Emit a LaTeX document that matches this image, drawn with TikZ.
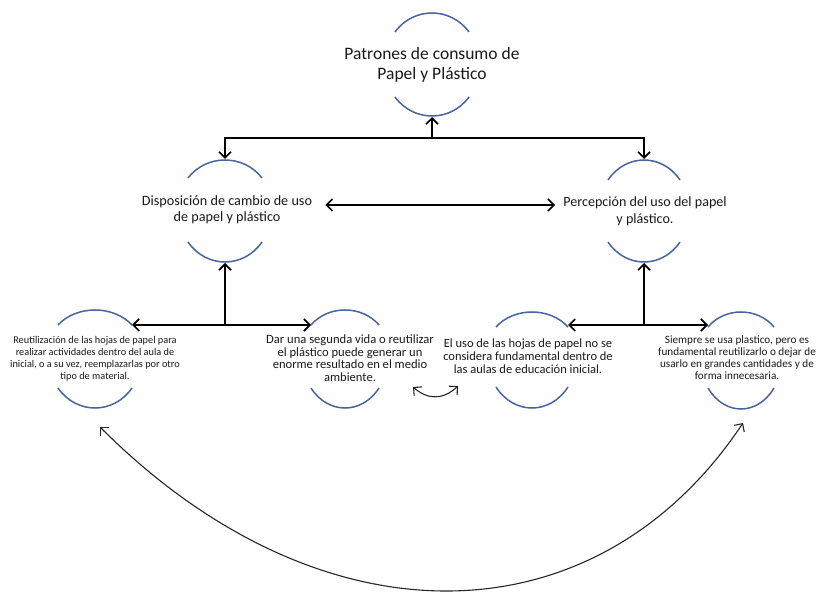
\documentclass[tikz,border=0pt]{standalone}
\usepackage{fontspec}
\setmainfont{Carlito}
\usetikzlibrary{arrows.meta}
\definecolor{arcblue}{RGB}{72,100,158}
\definecolor{txt}{RGB}{25,25,25}
\newcommand{\twoarcs}[7]{%
  \coordinate (#1t) at (#2,#3);
  \coordinate (#1b) at (#2,#4);
  \coordinate (#1tl) at ({#2-#5},{#3+#6});
  \coordinate (#1tr) at ({#2+#5},{#3+#6});
  \coordinate (#1bl) at ({#2-#5},{#4-#7});
  \coordinate (#1br) at ({#2+#5},{#4-#7});
  \draw[arcline] (#1tl) .. controls ({#2-#5/2},{#3-#6/3}) and ({#2+#5/2},{#3-#6/3}) .. (#1tr);
  \draw[arcline] (#1bl) .. controls ({#2-#5/2},{#4+#7/3}) and ({#2+#5/2},{#4+#7/3}) .. (#1br);
}
\begin{document}
\begin{tikzpicture}[x=1pt,y=-1pt,
  arcline/.style={draw=arcblue,line width=1.5pt},
  label/.style={align=center,text=txt,inner sep=0pt},
  conn/.style={line width=1.6pt,black},
  tip/.style={-{Straight Barb[length=6pt,width=12pt]}},
  tips/.style={{Straight Barb[length=6pt,width=12pt]}-{Straight Barb[length=6pt,width=12pt]}},
  thin/.style={line width=1.1pt,black!85}]
\useasboundingbox (0,0) rectangle (817,593);

% arcs around the concepts
\twoarcs{T}{432}{13}{116}{37}{19}{19}
\twoarcs{D}{225}{160}{262}{37}{18}{20}
\twoarcs{P}{644}{160}{262}{36}{20}{20}
\twoarcs{R}{95}{310}{408}{37}{15}{20}
\twoarcs{G}{345}{310}{408}{34}{15}{20}
\twoarcs{E}{532}{312}{408}{36}{15}{21}
\twoarcs{S}{741}{312}{409}{33}{15}{21}

% texts
\node[label,font=\fontsize{17.5}{20.5}\selectfont] (T) at (432,65) {Patrones de consumo de\\Papel y Plástico};
\node[label,font=\fontsize{14.2}{16}\selectfont] (D) at (227,210) {Disposición de cambio de uso\\de papel y plástico};
\node[label,font=\fontsize{14.1}{17}\selectfont] (P) at (645,211) {Percepción del uso del papel\\y plástico.};
\node[label,font=\fontsize{10.3}{12}\selectfont] (R) at (95,359) {Reutilización de las hojas de papel para\\realizar actividades dentro del aula de\\inicial, o a su vez, reemplazarlas por otro\\tipo de material.};
\node[label,font=\fontsize{12.6}{12.6}\selectfont] (G) at (350,358) {Dar una segunda vida o reutilizar\\el plástico puede generar un\\enorme resultado en el medio\\ambiente.};
\node[label,font=\fontsize{12.5}{13}\selectfont] (E) at (528,356) {El uso de las hojas de papel no se\\considera fundamental dentro de\\las aulas de educación inicial.};
\node[label,font=\fontsize{11.2}{12}\selectfont] (S) at (737,358) {Siempre se usa plastico, pero es\\fundamental reutilizarlo o dejar de\\usarlo en grandes cantidades y de\\forma innecesaria.};

% junctions
\coordinate (J1) at (432,138);
\coordinate (J2) at (225,325);
\coordinate (J3) at (644,325);

% connectors
\draw[conn,tip] (J1) -- ([yshift=-1pt]Tb);
\draw[conn,tip] (J1) -| ([yshift=1pt]Dt);
\draw[conn,tip] (J1) -| ([yshift=1pt]Pt);
\draw[conn,tips] ([shift={(13,-5)}]D.east) -- ([shift={(-8,-6)}]P.west);
\draw[conn,tip] (J2) -- ([yshift=-1pt]Db);
\draw[conn,tips] (Rtr |- J2) -- (Gtl |- J2);
\draw[conn,tip] (J3) -- ([yshift=-1pt]Pb);
\draw[conn,tips] (Etr |- J3) -- (Stl |- J3);

% small curved double arrow between G and E
\coordinate (c1) at (413,387);
\coordinate (c2) at (458,386);
\draw[thin,tips] (c1) .. controls (428,400) and (443,400) .. (c2);

% big curved double arrow between R and S
\coordinate (q1) at (100,427);
\coordinate (q2) at (743,423);
\draw[thin,tips] (q1) .. controls (320,647) and (595,645) .. (q2);
\end{tikzpicture}
\end{document}
